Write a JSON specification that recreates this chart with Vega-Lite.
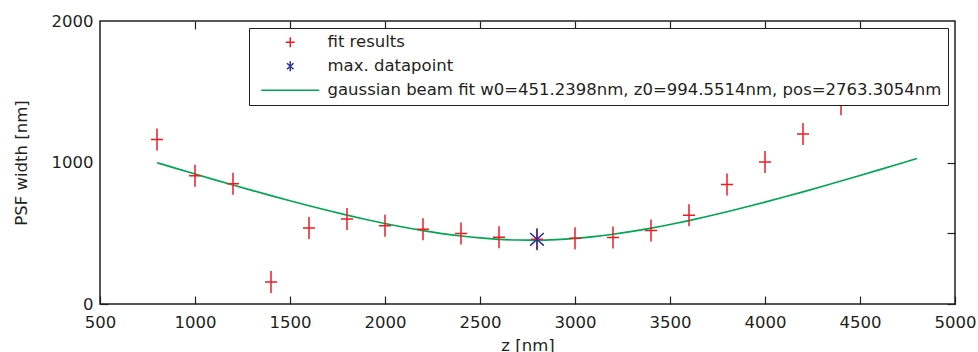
{
  "$schema": "https://vega.github.io/schema/vega-lite/v6.json",
  "width": 855,
  "height": 283,
  "autosize": "none",
  "padding": {"left": 100, "top": 21, "right": 23, "bottom": 48},
  "background": "white",
  "datasets": {
    "fit": [
      {"z": 800, "w": 998.5, "series": "gaussian beam fit w0=451.2398nm, z0=994.5514nm, pos=2763.3054nm"},
      {"z": 900, "w": 958.3, "series": "gaussian beam fit w0=451.2398nm, z0=994.5514nm, pos=2763.3054nm"},
      {"z": 1000, "w": 918.5, "series": "gaussian beam fit w0=451.2398nm, z0=994.5514nm, pos=2763.3054nm"},
      {"z": 1100, "w": 879.3, "series": "gaussian beam fit w0=451.2398nm, z0=994.5514nm, pos=2763.3054nm"},
      {"z": 1200, "w": 840.7, "series": "gaussian beam fit w0=451.2398nm, z0=994.5514nm, pos=2763.3054nm"},
      {"z": 1300, "w": 802.8, "series": "gaussian beam fit w0=451.2398nm, z0=994.5514nm, pos=2763.3054nm"},
      {"z": 1400, "w": 765.7, "series": "gaussian beam fit w0=451.2398nm, z0=994.5514nm, pos=2763.3054nm"},
      {"z": 1500, "w": 729.5, "series": "gaussian beam fit w0=451.2398nm, z0=994.5514nm, pos=2763.3054nm"},
      {"z": 1600, "w": 694.4, "series": "gaussian beam fit w0=451.2398nm, z0=994.5514nm, pos=2763.3054nm"},
      {"z": 1700, "w": 660.6, "series": "gaussian beam fit w0=451.2398nm, z0=994.5514nm, pos=2763.3054nm"},
      {"z": 1800, "w": 628.2, "series": "gaussian beam fit w0=451.2398nm, z0=994.5514nm, pos=2763.3054nm"},
      {"z": 1900, "w": 597.5, "series": "gaussian beam fit w0=451.2398nm, z0=994.5514nm, pos=2763.3054nm"},
      {"z": 2000, "w": 568.8, "series": "gaussian beam fit w0=451.2398nm, z0=994.5514nm, pos=2763.3054nm"},
      {"z": 2100, "w": 542.4, "series": "gaussian beam fit w0=451.2398nm, z0=994.5514nm, pos=2763.3054nm"},
      {"z": 2200, "w": 518.6, "series": "gaussian beam fit w0=451.2398nm, z0=994.5514nm, pos=2763.3054nm"},
      {"z": 2300, "w": 497.8, "series": "gaussian beam fit w0=451.2398nm, z0=994.5514nm, pos=2763.3054nm"},
      {"z": 2400, "w": 480.4, "series": "gaussian beam fit w0=451.2398nm, z0=994.5514nm, pos=2763.3054nm"},
      {"z": 2500, "w": 466.8, "series": "gaussian beam fit w0=451.2398nm, z0=994.5514nm, pos=2763.3054nm"},
      {"z": 2600, "w": 457.3, "series": "gaussian beam fit w0=451.2398nm, z0=994.5514nm, pos=2763.3054nm"},
      {"z": 2700, "w": 452.2, "series": "gaussian beam fit w0=451.2398nm, z0=994.5514nm, pos=2763.3054nm"},
      {"z": 2800, "w": 451.6, "series": "gaussian beam fit w0=451.2398nm, z0=994.5514nm, pos=2763.3054nm"},
      {"z": 2900, "w": 455.5, "series": "gaussian beam fit w0=451.2398nm, z0=994.5514nm, pos=2763.3054nm"},
      {"z": 3000, "w": 463.8, "series": "gaussian beam fit w0=451.2398nm, z0=994.5514nm, pos=2763.3054nm"},
      {"z": 3100, "w": 476.4, "series": "gaussian beam fit w0=451.2398nm, z0=994.5514nm, pos=2763.3054nm"},
      {"z": 3200, "w": 492.8, "series": "gaussian beam fit w0=451.2398nm, z0=994.5514nm, pos=2763.3054nm"},
      {"z": 3300, "w": 512.8, "series": "gaussian beam fit w0=451.2398nm, z0=994.5514nm, pos=2763.3054nm"},
      {"z": 3400, "w": 535.8, "series": "gaussian beam fit w0=451.2398nm, z0=994.5514nm, pos=2763.3054nm"},
      {"z": 3500, "w": 561.6, "series": "gaussian beam fit w0=451.2398nm, z0=994.5514nm, pos=2763.3054nm"},
      {"z": 3600, "w": 589.7, "series": "gaussian beam fit w0=451.2398nm, z0=994.5514nm, pos=2763.3054nm"},
      {"z": 3700, "w": 619.9, "series": "gaussian beam fit w0=451.2398nm, z0=994.5514nm, pos=2763.3054nm"},
      {"z": 3800, "w": 651.8, "series": "gaussian beam fit w0=451.2398nm, z0=994.5514nm, pos=2763.3054nm"},
      {"z": 3900, "w": 685.3, "series": "gaussian beam fit w0=451.2398nm, z0=994.5514nm, pos=2763.3054nm"},
      {"z": 4000, "w": 720.0, "series": "gaussian beam fit w0=451.2398nm, z0=994.5514nm, pos=2763.3054nm"},
      {"z": 4100, "w": 755.9, "series": "gaussian beam fit w0=451.2398nm, z0=994.5514nm, pos=2763.3054nm"},
      {"z": 4200, "w": 792.8, "series": "gaussian beam fit w0=451.2398nm, z0=994.5514nm, pos=2763.3054nm"},
      {"z": 4300, "w": 830.5, "series": "gaussian beam fit w0=451.2398nm, z0=994.5514nm, pos=2763.3054nm"},
      {"z": 4400, "w": 868.9, "series": "gaussian beam fit w0=451.2398nm, z0=994.5514nm, pos=2763.3054nm"},
      {"z": 4500, "w": 908.0, "series": "gaussian beam fit w0=451.2398nm, z0=994.5514nm, pos=2763.3054nm"},
      {"z": 4600, "w": 947.7, "series": "gaussian beam fit w0=451.2398nm, z0=994.5514nm, pos=2763.3054nm"},
      {"z": 4700, "w": 987.8, "series": "gaussian beam fit w0=451.2398nm, z0=994.5514nm, pos=2763.3054nm"},
      {"z": 4800, "w": 1028.4, "series": "gaussian beam fit w0=451.2398nm, z0=994.5514nm, pos=2763.3054nm"}
    ],
    "points": [
      {"z": 800, "w": 1163, "series": "fit results"},
      {"z": 1000, "w": 906, "series": "fit results"},
      {"z": 1200, "w": 849, "series": "fit results"},
      {"z": 1400, "w": 155, "series": "fit results"},
      {"z": 1600, "w": 537, "series": "fit results"},
      {"z": 1800, "w": 600, "series": "fit results"},
      {"z": 2000, "w": 553, "series": "fit results"},
      {"z": 2200, "w": 529, "series": "fit results"},
      {"z": 2400, "w": 499, "series": "fit results"},
      {"z": 2600, "w": 471, "series": "fit results"},
      {"z": 2800, "w": 457, "series": "fit results"},
      {"z": 3000, "w": 464, "series": "fit results"},
      {"z": 3200, "w": 470, "series": "fit results"},
      {"z": 3400, "w": 520, "series": "fit results"},
      {"z": 3600, "w": 628, "series": "fit results"},
      {"z": 3800, "w": 845, "series": "fit results"},
      {"z": 4000, "w": 1004, "series": "fit results"},
      {"z": 4200, "w": 1202, "series": "fit results"},
      {"z": 4400, "w": 1412, "series": "fit results"}
    ],
    "maxpt": [
      {"z": 2800, "w": 457, "series": "max. datapoint"}
    ]
  },
  "layer": [
    {
      "data": {"name": "fit"},
      "mark": {"type": "line", "strokeWidth": 1.7, "interpolate": "monotone"},
      "encoding": {
        "x": {
          "field": "z", "type": "quantitative",
          "scale": {"domain": [500, 5000], "nice": false, "zero": false},
          "axis": {
            "orient": "bottom", "values": [500, 1000, 1500, 2000, 2500, 3000, 3500, 4000, 4500, 5000],
            "format": "d",
            "tickSize": -8, "labelPadding": 18, "domain": false, "grid": false,
            "title": "z [nm]", "titlePadding": 7
          }
        },
        "y": {
          "field": "w", "type": "quantitative",
          "scale": {"domain": [0, 2000], "nice": false},
          "axis": {
            "orient": "left", "values": [0, 1000, 2000], "ticks": false, "format": "d",
            "labelPadding": 7, "domain": false, "grid": false,
            "title": "PSF width [nm]", "titlePadding": 22
          }
        },
        "color": {
          "field": "series", "type": "nominal",
          "scale": {
            "domain": ["fit results", "max. datapoint", "gaussian beam fit w0=451.2398nm, z0=994.5514nm, pos=2763.3054nm"],
            "range": ["#ed1c24", "#2e3192", "#00a651"]
          },
          "legend": {"title": null}
        }
      }
    },
    {
      "data": {"name": "points"},
      "mark": {"type": "point", "filled": false, "strokeWidth": 1.5, "size": 484, "opacity": 1, "shape": "M-0.55,0L0.55,0M0,-1L0,1"},
      "encoding": {
        "x": {
          "field": "z", "type": "quantitative",
          "axis": {
            "orient": "top", "values": [1000, 1500, 2000, 2500, 3000, 3500, 4000, 4500],
            "tickSize": -8, "labels": false, "domain": false, "grid": false, "title": null
          }
        },
        "y": {
          "field": "w", "type": "quantitative",
          "axis": {
            "orient": "right", "values": [0, 500, 1000],
            "tickSize": -8, "labels": false, "domain": false, "grid": false, "title": null
          }
        },
        "color": {
          "field": "series", "type": "nominal",
          "legend": {"title": null}
        }
      }
    },
    {
      "data": {"name": "maxpt"},
      "mark": {"type": "point", "filled": false, "strokeWidth": 1.5, "size": 441, "opacity": 1},
      "encoding": {
        "x": {
          "field": "z", "type": "quantitative",
          "axis": null
        },
        "y": {
          "field": "w", "type": "quantitative",
          "axis": {
            "orient": "left", "values": [0], "tickSize": -8, "labels": false,
            "domain": false, "grid": false, "title": null
          }
        },
        "color": {"field": "series", "type": "nominal", "legend": {"title": null}},
        "shape": {
          "field": "series", "type": "nominal",
          "scale": {
            "domain": ["fit results", "max. datapoint", "gaussian beam fit w0=451.2398nm, z0=994.5514nm, pos=2763.3054nm"],
            "range": ["M-0.9,0L0.9,0M0,-1L0,1", "M0,-1L0,1M-0.65,-0.6L0.65,0.6M-0.65,0.6L0.65,-0.6", "M-5.8,0L5.8,0"]
          },
          "legend": {"title": null}
        }
      }
    }
  ],
  "resolve": {"axis": {"x": "independent", "y": "independent"}},
  "config": {
    "view": {"stroke": "#231f20", "strokeWidth": 1.5},
    "font": "DejaVu Sans",
    "legend": {
      "orient": "top-right",
      "offset": 7,
      "padding": 6,
      "strokeColor": "#231f20",
      "fillColor": "white",
      "symbolSize": 100,
      "symbolOffset": 27,
      "symbolStrokeWidth": 1.5,
      "symbolFillColor": "transparent",
      "labelFont": "DejaVu Sans",
      "labelFontSize": 16.5,
      "labelColor": "#231f20",
      "labelLimit": 1000,
      "labelOffset": 29,
      "rowPadding": 7
    },
    "axis": {
      "labelFont": "DejaVu Sans",
      "labelFontSize": 16.5,
      "labelColor": "#231f20",
      "titleFont": "DejaVu Sans",
      "titleFontSize": 16.5,
      "titleFontWeight": "normal",
      "titleColor": "#231f20",
      "tickColor": "#231f20",
      "tickWidth": 1.2,
      "labelFlush": false,
      "labelOverlap": false
    }
  }
}
